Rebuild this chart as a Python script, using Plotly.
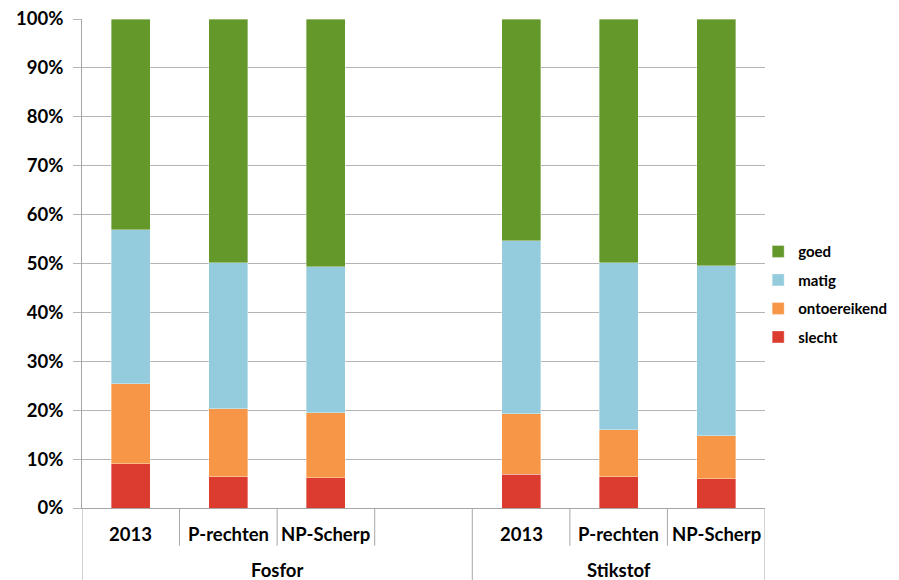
import plotly.graph_objects as go

groups = ["Fosfor", "Stikstof"]
group_slots = [4, 3]
scenarios = ["2013", "P-rechten", "NP-Scherp", "", "2013", "P-rechten", "NP-Scherp"]

slecht = [9.0, 6.4, 6.2, None, 6.9, 6.4, 6.0]
ontoereikend = [16.4, 13.9, 13.3, None, 12.4, 9.6, 8.8]
matig = [31.5, 29.9, 29.8, None, 35.4, 34.2, 34.7]
goed = [43.1, 49.8, 50.7, None, 45.3, 49.8, 50.5]

series = [
    ("slecht", slecht, "#DC3B2F"),
    ("ontoereikend", ontoereikend, "#F79646"),
    ("matig", matig, "#95CCDD"),
    ("goed", goed, "#65982B"),
]

font = "Lato, 'Open Sans', sans-serif"
axis_col = "#a6a6a6"
xs = list(range(len(scenarios)))

fig = go.Figure()
for k, (name, vals, col) in enumerate(series):
    fig.add_trace(go.Bar(
        x=xs, y=[v / 100 if v is not None else None for v in vals],
        name=name, legendgroup=name, legendrank=len(series) - k,
        marker=dict(color=col, line=dict(width=0.6, color="rgba(255,255,255,0.6)")),
        width=0.4,
    ))

shapes = []
annotations = []
for i, lab in enumerate(scenarios):
    annotations.append(dict(x=i, y=-0.053, xref="x", yref="paper", text=f"<b>{lab}</b>",
                            showarrow=False, font=dict(family=font, size=18.5, color="#000"),
                            xanchor="center", yanchor="middle"))
bounds = [0]
for n in group_slots:
    bounds.append(bounds[-1] + n)
for b in range(len(scenarios) + 1):
    long = b in bounds
    shapes.append(dict(type="line", xref="x", yref="paper", x0=b - 0.5, x1=b - 0.5,
                       y0=0, y1=-0.16 if long else -0.077,
                       line=dict(color=axis_col, width=1)))
for g, name in enumerate(groups):
    mid = (bounds[g] + bounds[g + 1] - 1) / 2
    annotations.append(dict(x=mid, y=-0.127, xref="x", yref="paper", text=f"<b>{name}</b>",
                            showarrow=False, font=dict(family=font, size=18.5, color="#000"),
                            xanchor="center", yanchor="middle"))

# page body has an 8px default margin: figure is 8px smaller, top/left margins shifted by 8px
fig.update_layout(
    barmode="stack",
    width=891, height=572,
    margin=dict(l=74, r=134, t=11, b=72, pad=0, autoexpand=False),
    paper_bgcolor="white", plot_bgcolor="white",
    font=dict(family=font, size=14, color="#000000"),
    showlegend=True,
    legend=dict(
        traceorder="grouped", x=0.99, y=0.558, xanchor="left", yanchor="top",
        font=dict(family=font, size=15, color="#000", weight="bold"),
        itemwidth=30, tracegroupgap=6, bgcolor="rgba(0,0,0,0)",
    ),
    shapes=shapes,
    annotations=annotations,
)
fig.update_yaxes(
    range=[0, 1], tickformat=".0%", dtick=0.1,
    showgrid=True, gridcolor="#b3b3b3", gridwidth=1,
    ticks="outside", ticklen=8, tickcolor="#b3b3b3",
    showline=True, linecolor=axis_col, linewidth=1,
    tickfont=dict(family=font, size=18.5, color="#000", weight="bold"),
    ticklabelstandoff=6, ticklabeloverflow="allow",
    zeroline=False, automargin=False,
)
fig.update_xaxes(
    range=[-0.5, len(scenarios) - 0.5],
    showline=True, linecolor=axis_col, linewidth=1,
    showticklabels=False, ticks="", showgrid=False, zeroline=False, automargin=False,
)
fig.write_html("out.html")
